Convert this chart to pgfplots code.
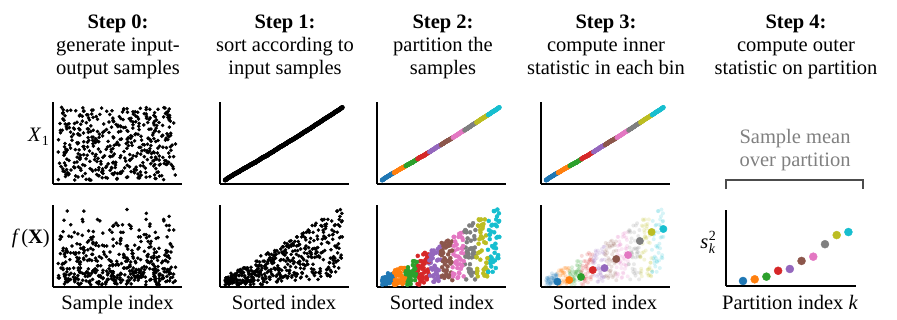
\documentclass[border=0pt]{standalone}
\usepackage{pgfplots}
\pgfplotsset{compat=1.18}
\usepackage{pgfplotstable}
\usepackage{fontspec}
\setmainfont{Liberation Serif}
\definecolor{c0}{HTML}{1F77B4}
\definecolor{c1}{HTML}{FF7F0E}
\definecolor{c2}{HTML}{2CA02C}
\definecolor{c3}{HTML}{D62728}
\definecolor{c4}{HTML}{9467BD}
\definecolor{c5}{HTML}{8C564B}
\definecolor{c6}{HTML}{E377C2}
\definecolor{c7}{HTML}{7F7F7F}
\definecolor{c8}{HTML}{BCBD22}
\definecolor{c9}{HTML}{17BECF}
% samples in sorted order (row = sorted index)
\pgfplotstableread{
pos x1 f
141 0 6
265 1 4
897 2 9
238 3 5
264 4 3
832 6 8
502 7 9
419 8 7
693 9 10
375 10 1
582 11 1
749 12 4
592 13 3
781 14 6
62 15 9
208 16 15
862 17 12
348 18 4
342 18 2
706 20 12
821 21 7
86 22 8
328 23 3
66 24 7
93 25 13
460 26 14
505 27 12
231 27 11
535 28 14
81 30 4
481 30 2
745 31 0
841 32 0
701 33 19
852 33 2
55 35 12
644 35 12
294 37 18
549 37 6
381 38 19
442 40 18
109 41 15
665 42 19
344 42 12
284 43 15
648 44 6
378 46 16
831 47 16
271 47 5
190 48 22
456 49 12
566 50 22
346 51 1
486 52 2
454 52 8
664 53 20
133 54 22
607 55 6
24 56 22
412 57 18
724 58 16
700 59 18
63 60 4
588 61 5
488 62 4
209 63 6
962 64 23
925 64 11
917 65 4
364 66 10
789 67 7
903 68 17
11 69 9
53 70 1
488 71 6
466 71 17
138 72 14
469 73 17
941 73 17
160 74 31
330 76 19
270 77 12
575 78 31
919 79 17
92 80 6
611 81 24
819 82 11
611 83 26
310 84 17
185 85 16
74 86 17
237 87 38
627 89 19
567 90 13
188 91 22
527 92 9
891 93 8
793 93 31
830 94 4
949 95 5
983 96 14
733 96 24
440 97 25
664 98 11
860 99 8
394 100 40
639 100 22
247 102 16
190 102 30
217 104 42
609 105 18
702 106 33
53 107 40
171 108 33
293 109 7
675 110 10
846 111 32
818 112 20
766 113 40
51 114 14
0 115 28
812 115 35
452 116 31
560 117 39
778 119 29
713 120 22
757 121 38
960 122 43
736 123 20
178 124 35
146 125 40
409 126 4
224 127 45
343 127 4
465 129 25
585 130 22
105 131 7
922 133 42
689 134 16
892 135 21
420 136 13
956 137 9
212 137 47
219 138 33
864 139 5
441 140 43
598 141 10
629 142 41
477 143 10
99 144 33
518 144 40
721 145 11
499 147 55
998 148 23
297 149 46
499 149 31
59 150 42
173 152 19
160 153 54
318 154 35
502 155 27
594 156 33
346 157 51
830 158 18
425 159 15
308 160 19
334 161 31
850 162 24
261 163 58
118 163 51
710 164 10
3 165 12
783 166 54
528 167 54
587 168 35
320 169 52
814 170 16
617 171 14
766 172 57
473 173 6
598 174 23
349 175 11
287 176 40
468 177 51
115 178 63
628 179 45
882 180 29
378 181 52
937 182 38
957 183 53
185 184 53
805 185 27
171 186 22
680 188 47
130 188 10
927 190 63
661 190 16
959 192 15
216 193 35
19 194 64
380 195 68
257 196 21
106 197 42
858 198 48
278 199 62
593 200 47
533 200 59
827 202 69
823 203 11
19 204 41
35 204 27
185 206 27
689 207 72
773 208 49
259 209 71
138 209 69
249 210 56
177 211 42
834 213 61
131 213 42
557 215 40
572 216 36
454 217 17
69 218 47
508 219 27
533 220 15
686 221 20
278 222 48
889 224 12
509 225 78
817 226 47
637 227 41
493 228 81
192 229 48
60 230 37
92 231 64
16 232 60
139 232 7
984 234 72
240 235 16
858 236 37
160 237 36
637 238 15
660 239 18
471 240 11
819 241 42
955 242 54
619 243 77
467 245 60
837 246 43
944 247 72
553 248 69
774 249 64
684 250 63
40 251 45
534 252 61
620 253 74
466 254 77
259 255 15
949 256 20
933 257 20
677 258 12
898 259 86
521 260 13
752 261 23
205 262 65
660 263 29
58 264 12
815 265 11
935 266 19
253 267 46
243 268 17
355 269 84
640 270 35
749 271 66
732 272 66
914 273 32
927 275 37
42 276 70
922 277 78
678 278 35
547 279 79
636 280 17
934 281 30
216 282 49
219 283 97
458 284 69
150 284 42
286 286 32
297 287 54
557 288 22
749 289 86
850 290 62
945 291 90
586 292 99
699 294 63
909 295 39
210 296 83
750 297 94
29 298 63
}\dataA
% further samples, sorted index k between the rows above
\pgfplotstableread{
k pos x1 f
0.5 278 0 0
2.5 1 2 9
4.5 500 4 1
6.5 826 7 5
8.5 681 9 6
10.5 405 11 1
12.5 169 13 2
14.5 691 15 9
16.5 149 17 9
18.5 881 18 8
20.5 996 21 5
22.5 471 23 6
24.5 679 25 12
26.5 382 27 9
28.5 526 28 7
30.5 650 30 16
32.5 531 32 6
34.5 371 33 0
36.5 621 35 1
38.5 42 37 20
40.5 194 40 2
42.5 319 42 16
44.5 72 43 4
46.5 40 46 22
48.5 980 47 3
50.5 742 49 10
52.5 141 51 4
54.5 406 52 3
56.5 172 54 7
58.5 975 56 10
60.5 814 58 14
62.5 226 60 14
64.5 861 62 0
66.5 822 64 19
68.5 868 65 14
70.5 427 67 7
72.5 930 69 5
74.5 466 71 15
76.5 721 72 13
78.5 490 73 26
80.5 362 76 25
82.5 807 78 20
84.5 907 80 21
86.5 860 82 14
88.5 759 84 30
90.5 839 86 1
92.5 339 89 25
94.5 180 91 0
96.5 380 93 8
98.5 162 94 8
100.5 446 96 31
102.5 315 97 21
104.5 465 99 27
106.5 533 100 3
108.5 50 102 28
110.5 322 105 32
112.5 478 107 10
114.5 794 109 36
116.5 941 111 17
118.5 64 113 30
120.5 756 115 32
122.5 359 116 12
124.5 267 119 33
126.5 72 121 45
128.5 77 123 21
130.5 452 125 11
132.5 65 127 13
134.5 780 129 21
136.5 849 131 19
138.5 702 134 15
140.5 250 136 32
142.5 54 137 11
144.5 300 139 19
146.5 789 141 50
148.5 970 143 50
150.5 734 144 44
152.5 761 147 39
154.5 167 149 12
156.5 580 150 51
158.5 624 153 9
160.5 250 155 11
162.5 218 157 49
164.5 791 159 57
166.5 651 161 52
168.5 293 163 40
170.5 913 164 32
172.5 933 166 44
174.5 539 168 28
176.5 768 170 30
178.5 918 172 45
180.5 254 174 15
182.5 298 176 63
184.5 944 178 14
186.5 705 180 57
188.5 618 182 30
190.5 890 184 31
192.5 655 186 9
194.5 351 188 37
196.5 168 190 67
198.5 809 193 27
200.5 433 195 33
202.5 513 197 26
204.5 335 199 25
206.5 392 200 51
208.5 587 203 31
210.5 299 204 70
212.5 411 207 37
214.5 790 209 7
216.5 74 210 44
218.5 635 213 37
220.5 96 215 21
222.5 946 217 78
224.5 533 219 69
226.5 530 221 58
228.5 839 224 36
230.5 729 226 16
232.5 80 228 43
234.5 388 230 43
236.5 689 232 49
238.5 814 234 38
240.5 762 236 37
242.5 432 238 21
244.5 472 240 78
246.5 206 242 86
248.5 50 245 85
250.5 266 247 33
252.5 335 249 86
254.5 605 251 79
256.5 752 253 62
258.5 782 255 80
260.5 297 257 56
262.5 828 259 21
264.5 324 261 55
266.5 181 263 29
268.5 948 265 35
270.5 187 267 17
272.5 439 269 72
274.5 286 271 60
276.5 39 273 28
278.5 821 276 24
280.5 590 278 51
282.5 656 280 31
284.5 414 282 51
286.5 77 284 97
288.5 107 286 79
290.5 43 288 48
292.5 780 290 77
294.5 558 292 36
296.5 370 295 35
298.5 900 297 84
}\dataB

\pgfplotsset{
  panel/.style={scale only axis, width=129bp, height=82bp,
    axis x line=bottom, axis y line=left,
    axis line style={-, line width=1.3bp, black},
    xtick=\empty, ytick=\empty, clip=false,
    xmin=-13, xmax=316, anchor=south west},
  top/.style={panel, ymin=-16, ymax=320},
  bot/.style={panel, ymin=-3, ymax=105},
  raw/.style={xmin=-44, xmax=1054},
}
% #1 table, #2 x spec, #3 y column, #4 options
\newcommand{\binplots}[4]{%
  \addplot[only marks, mark=*, c0, #4, restrict x to domain=-0.9:29.9] table[#2, y=#3] {#1};
  \addplot[only marks, mark=*, c1, #4, restrict x to domain=29.9:59.9] table[#2, y=#3] {#1};
  \addplot[only marks, mark=*, c2, #4, restrict x to domain=59.9:89.9] table[#2, y=#3] {#1};
  \addplot[only marks, mark=*, c3, #4, restrict x to domain=89.9:119.9] table[#2, y=#3] {#1};
  \addplot[only marks, mark=*, c4, #4, restrict x to domain=119.9:149.9] table[#2, y=#3] {#1};
  \addplot[only marks, mark=*, c5, #4, restrict x to domain=149.9:179.9] table[#2, y=#3] {#1};
  \addplot[only marks, mark=*, c6, #4, restrict x to domain=179.9:209.9] table[#2, y=#3] {#1};
  \addplot[only marks, mark=*, c7, #4, restrict x to domain=209.9:239.9] table[#2, y=#3] {#1};
  \addplot[only marks, mark=*, c8, #4, restrict x to domain=239.9:269.9] table[#2, y=#3] {#1};
  \addplot[only marks, mark=*, c9, #4, restrict x to domain=269.9:299.9] table[#2, y=#3] {#1};
}
\newcommand{\allbins}[2]{%
  \binplots{\dataA}{x expr=\coordindex}{#1}{#2}
  \binplots{\dataB}{x=k}{#1}{#2}
}

\begin{document}
\fontsize{20.5bp}{24bp}\selectfont
\begin{tikzpicture}[x=1bp,y=1bp]
\useasboundingbox (0,0) rectangle (897,319);

% titles
\node[anchor=base, font=\bfseries] at (118,291) {Step 0:};
\node[anchor=base] at (118,268) {generate input-};
\node[anchor=base] at (118,245) {output samples};
\node[anchor=base, font=\bfseries] at (285,291) {Step 1:};
\node[anchor=base] at (285,268) {sort according to};
\node[anchor=base] at (285,245) {input samples};
\node[anchor=base, font=\bfseries] at (443,291) {Step 2:};
\node[anchor=base] at (443,268) {partition the};
\node[anchor=base] at (443,245) {samples};
\node[anchor=base, font=\bfseries] at (606,291) {Step 3:};
\node[anchor=base] at (606,268) {compute inner};
\node[anchor=base] at (606,245) {statistic in each bin};
\node[anchor=base, font=\bfseries] at (796,291) {Step 4:};
\node[anchor=base] at (796,268) {compute outer};
\node[anchor=base] at (796,245) {statistic on partition};

% y labels
\node[anchor=base east, inner sep=0pt] at (49,178) {\textit{X}\kern0.5bp\raisebox{-4bp}{\fontsize{14bp}{14bp}\selectfont 1}};
\node[anchor=base east, inner sep=0pt] at (50,76) {\textit{f}\kern1.5bp(\textbf{X})};
\node[anchor=base east, inner sep=0pt] at (716,71) {\textit{s}\kern0.5bp\rlap{\raisebox{-5bp}{\fontsize{14bp}{14bp}\selectfont\itshape k}}\raisebox{8bp}{\fontsize{14bp}{14bp}\selectfont 2}};

% x labels
\node[anchor=base] at (117.5,10) {Sample index};
\node[anchor=base] at (284,10) {Sorted index};
\node[anchor=base] at (442,10) {Sorted index};
\node[anchor=base] at (605,10) {Sorted index};
\node[anchor=base] at (790,10) {Partition index \textit{k}};

% gray annotation
\node[anchor=base, text=black!50] at (795,176) {Sample mean};
\node[anchor=base, text=black!50] at (795,153) {over partition};
\draw[black!70, line width=1.8bp] (726,130) -- (726,139) -- (863,139) -- (863,130);

% Step 0
\begin{axis}[top, raw, at={(53bp,135bp)}]
\addplot[only marks, mark=*, mark size=1.6bp, black] table[x=pos, y=x1] {\dataA};
\addplot[only marks, mark=*, mark size=1.6bp, black] table[x=pos, y=x1] {\dataB};
\end{axis}
\begin{axis}[bot, raw, at={(53bp,32bp)}]
\addplot[only marks, mark=*, mark size=1.6bp, black] table[x=pos, y=f] {\dataA};
\addplot[only marks, mark=*, mark size=1.6bp, black] table[x=pos, y=f] {\dataB};
\end{axis}

% Step 1
\begin{axis}[top, at={(220bp,135bp)}]
\addplot[only marks, mark=*, mark size=2.1bp, black] table[x expr=\coordindex, y=x1] {\dataA};
\addplot[only marks, mark=*, mark size=2.1bp, black] table[x=k, y=x1] {\dataB};
\end{axis}
\begin{axis}[bot, at={(220bp,32bp)}]
\addplot[only marks, mark=*, mark size=1.6bp, black] table[x expr=\coordindex, y=f] {\dataA};
\addplot[only marks, mark=*, mark size=1.6bp, black] table[x=k, y=f] {\dataB};
\end{axis}

% Step 2
\begin{axis}[top, at={(377bp,135bp)}]
\allbins{x1}{mark size=2.1bp}
\end{axis}
\begin{axis}[bot, at={(377bp,32bp)}]
\allbins{f}{mark size=2bp}
\end{axis}

% Step 3
\begin{axis}[top, at={(541bp,135bp)}]
\allbins{x1}{mark size=2.1bp}
\end{axis}
\begin{axis}[bot, at={(541bp,32bp)}]
\allbins{f}{mark size=2bp, mark options={fill opacity=0.17, draw opacity=0}}
\addplot[only marks, mark=*, mark size=3.7bp, c0] coordinates {(29,4.0)};
\addplot[only marks, mark=*, mark size=3.7bp, c1] coordinates {(59,6.2)};
\addplot[only marks, mark=*, mark size=3.7bp, c2] coordinates {(89,10.2)};
\addplot[only marks, mark=*, mark size=3.7bp, c3] coordinates {(119,19.4)};
\addplot[only marks, mark=*, mark size=3.7bp, c4] coordinates {(149,22.0)};
\addplot[only marks, mark=*, mark size=3.7bp, c5] coordinates {(179,33.9)};
\addplot[only marks, mark=*, mark size=3.7bp, c6] coordinates {(209,39.1)};
\addplot[only marks, mark=*, mark size=3.7bp, c7] coordinates {(239,57.6)};
\addplot[only marks, mark=*, mark size=3.7bp, c8] coordinates {(269,69.4)};
\addplot[only marks, mark=*, mark size=3.7bp, c9] coordinates {(299,73.4)};
\end{axis}

% Step 4
\begin{axis}[panel, width=130bp, height=76bp, at={(726bp,33bp)}, xmin=-0.45, xmax=10.65, ymin=0, ymax=100]
\addplot[only marks, mark=*, mark size=4bp, c0] coordinates {(1,6.6)};
\addplot[only marks, mark=*, mark size=4bp, c1] coordinates {(2,8.8)};
\addplot[only marks, mark=*, mark size=4bp, c2] coordinates {(3,12.3)};
\addplot[only marks, mark=*, mark size=4bp, c3] coordinates {(4,20.0)};
\addplot[only marks, mark=*, mark size=4bp, c4] coordinates {(5,22.4)};
\addplot[only marks, mark=*, mark size=4bp, c5] coordinates {(6,33.0)};
\addplot[only marks, mark=*, mark size=4bp, c6] coordinates {(7,38.6)};
\addplot[only marks, mark=*, mark size=4bp, c7] coordinates {(8,55.0)};
\addplot[only marks, mark=*, mark size=4bp, c8] coordinates {(9,67.0)};
\addplot[only marks, mark=*, mark size=4bp, c9] coordinates {(10,71.0)};
\end{axis}
\end{tikzpicture}
\end{document}
